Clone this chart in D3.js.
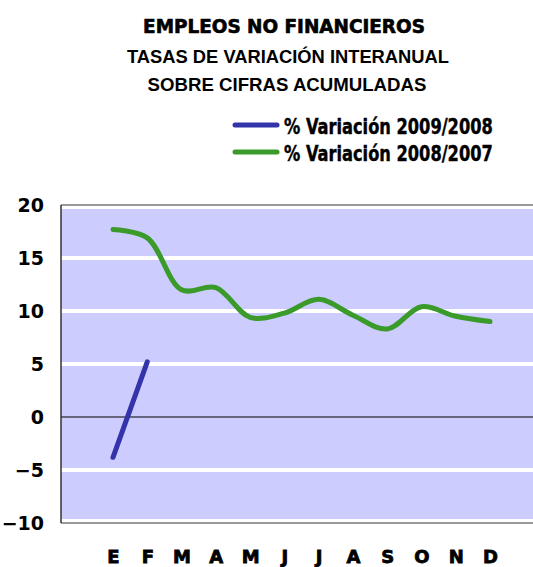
<!DOCTYPE html>
<html lang="es">
<head>
<meta charset="utf-8">
<title>Empleos no financieros</title>
<script src="https://d3js.org/d3.v7.min.js"></script>
<style>
  body { margin: 0; background: #fff; }
  text { font-family: "Liberation Sans", Arial, sans-serif; font-weight: bold; fill: #000; }
</style>
</head>
<body>
<script>
// datos
var months = ["E", "F", "M", "A", "M2", "J", "J2", "A2", "S", "O", "N", "D"];
var monthLabels = ["E", "F", "M", "A", "M", "J", "J", "A", "S", "O", "N", "D"];
var var2009 = [-3.8, 5.2];
var var2008 = [17.7, 16.9, 12.0, 12.2, 9.4, 9.8, 11.1, 9.6, 8.3, 10.4, 9.5, 9.0];
var yTicks = [-10, -5, 0, 5, 10, 15, 20];

var w = 533, h = 567;
var plotLeft = 61, plotRight = 540, plotTop = 205, plotBottom = 523;

var svg = d3.select("body").append("svg")
    .attr("width", w)
    .attr("height", h);

var x = d3.scalePoint().domain(months).range([113, 490]);
var y = d3.scaleLinear().domain([-10, 20]).range([plotBottom, plotTop]);

// ajusta el ancho de un texto escalando solo en horizontal
function fitWidth(sel, x0, y0, width) {
  sel.each(function() {
    var len = this.getComputedTextLength();
    d3.select(this)
      .attr("x", 0).attr("y", 0)
      .attr("transform", "translate(" + x0 + "," + y0 + ") scale(" + (width / len) + ",1)");
  });
}

// titulos
svg.append("text")
    .attr("text-anchor", "middle")
    .style("font-family", "'DejaVu Sans Condensed', 'DejaVu Sans'")
    .style("font-size", "19px")
    .style("font-weight", "900")
    .style("stroke", "#000").style("stroke-width", 0.6)
    .text("EMPLEOS NO FINANCIEROS")
    .call(fitWidth, 284, 33, 282);
svg.append("text")
    .attr("text-anchor", "middle")
    .style("font-size", "18px")
    .text("TASAS DE VARIACIÓN INTERANUAL")
    .call(fitWidth, 288, 63, 322);
svg.append("text")
    .attr("text-anchor", "middle")
    .style("font-size", "18px")
    .text("SOBRE CIFRAS ACUMULADAS")
    .call(fitWidth, 287, 91, 279);

// fondo del area
svg.append("rect")
    .attr("x", plotLeft).attr("y", plotTop)
    .attr("width", plotRight - plotLeft).attr("height", plotBottom - plotTop)
    .attr("fill", "#ccccff");

svg.append("g").selectAll("line")
    .data(yTicks.filter(d => d !== 0))
    .join("line")
    .attr("x1", plotLeft).attr("x2", plotRight)
    .attr("y1", d => y(d) + (d === 20 ? 2 : d === -10 ? -2 : 0))
    .attr("y2", d => y(d) + (d === 20 ? 2 : d === -10 ? -2 : 0))
    .attr("stroke", "#fff")
    .attr("stroke-width", 4);

// linea del cero
svg.append("line")
    .attr("x1", plotLeft).attr("x2", plotRight)
    .attr("y1", y(0)).attr("y2", y(0))
    .attr("stroke", "#000").attr("stroke-width", 1);

// bordes
svg.append("line")
    .attr("x1", plotLeft).attr("x2", plotRight)
    .attr("y1", plotTop).attr("y2", plotTop)
    .attr("stroke", "#777").attr("stroke-width", 1.5);
svg.append("line")
    .attr("x1", plotLeft).attr("x2", plotRight)
    .attr("y1", plotBottom).attr("y2", plotBottom)
    .attr("stroke", "#777").attr("stroke-width", 1.5);
svg.append("line")
    .attr("x1", plotLeft).attr("x2", plotLeft)
    .attr("y1", plotTop).attr("y2", plotBottom)
    .attr("stroke", "#333").attr("stroke-width", 1.5);

// eje y
var yAxis = d3.axisLeft(y).tickValues(yTicks).tickSize(0).tickPadding(0);
var gy = svg.append("g")
    .attr("transform", "translate(44,0)")
    .call(yAxis);
gy.select(".domain").remove();
gy.selectAll("text")
    .style("font-size", "19px")
    .style("font-family", "'DejaVu Sans', sans-serif")
    .style("font-weight", "bold")
    .attr("dy", "0.36em");

// eje x
var xAxis = d3.axisBottom(x).tickSize(0).tickPadding(0)
    .tickFormat((d, i) => monthLabels[i]);
var gx = svg.append("g")
    .attr("transform", "translate(0,550)")
    .call(xAxis);
gx.select(".domain").remove();
gx.selectAll("text")
    .style("font-size", "18px")
    .style("font-family", "'DejaVu Sans', sans-serif")
    .style("font-weight", "900")
    .style("stroke", "#000").style("stroke-width", 0.8)
    .attr("dy", "0.72em");

// lineas
var line = d3.line()
    .x((d, i) => x(months[i]))
    .y(d => y(d))
    .curve(d3.curveCatmullRom.alpha(0.5));

svg.append("path")
    .datum(var2008)
    .attr("d", line)
    .attr("fill", "none")
    .attr("stroke", "#3a9a2a")
    .attr("stroke-width", 5)
    .attr("stroke-linecap", "round");

svg.append("path")
    .datum(var2009)
    .attr("d", line)
    .attr("fill", "none")
    .attr("stroke", "#3333aa")
    .attr("stroke-width", 5)
    .attr("stroke-linecap", "round");

// leyenda
var legend = [
  {label: "% Variación 2009/2008", color: "#3333aa", y: 125},
  {label: "% Variación 2008/2007", color: "#3a9a2a", y: 152}
];
var lg = svg.append("g").selectAll("g").data(legend).join("g");
lg.append("line")
    .attr("x1", 235).attr("x2", 277)
    .attr("y1", d => d.y).attr("y2", d => d.y)
    .attr("stroke", d => d.color)
    .attr("stroke-width", 5)
    .attr("stroke-linecap", "round");
lg.append("text")
    .style("font-family", "'Liberation Sans Narrow', 'DejaVu Sans Condensed', sans-serif")
    .style("font-size", "22px")
    .style("stroke", "#000").style("stroke-width", 0.4)
    .text(d => d.label)
    .each(function(d) { d3.select(this).call(fitWidth, 284, d.y + 9, 209); });
</script>
</body>
</html>
